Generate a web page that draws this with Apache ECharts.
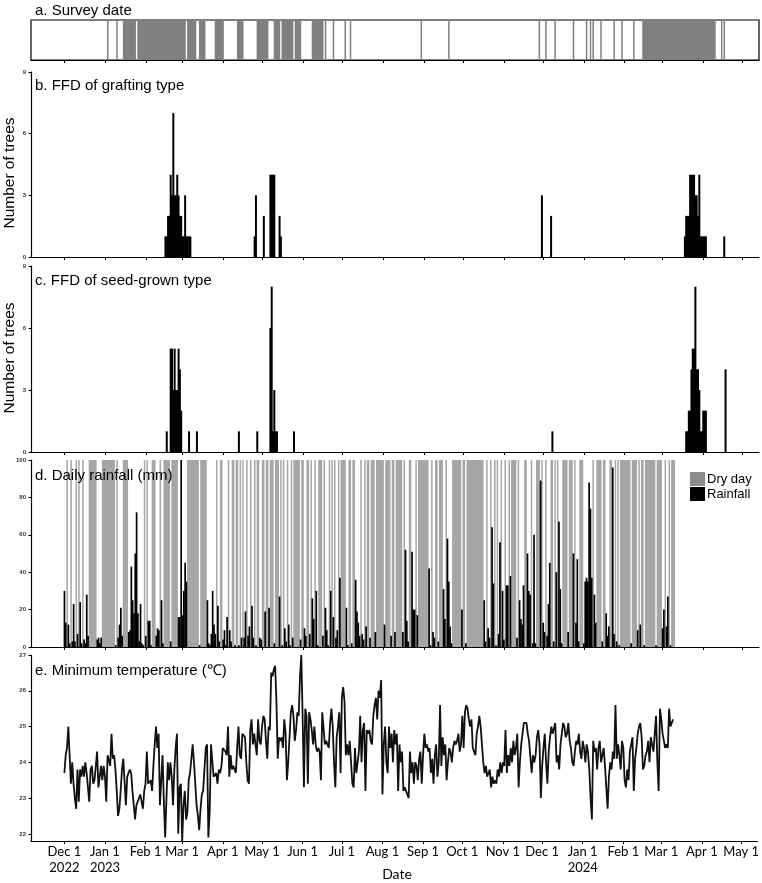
<!DOCTYPE html>
<html><head><meta charset="utf-8">
<script src="https://cdn.jsdelivr.net/npm/echarts@6/dist/echarts.min.js"></script>
<style>html,body{margin:0;padding:0;background:#fff}#c{width:762px;height:883px}</style>
</head><body><div id="c"></div>
<script>
// All day offsets are counted from 2022-12-01 (offset 0).
const BASE_DATE = '2022-12-01';
const AXIS_FIRST_OFFSET = -25;   // 2022-11-06
const AXIS_LAST_OFFSET = 529;    // 2024-05-13
const RAIN_LAST_OFFSET = 465;    // last recorded day of rainfall / temperature

const tickLabels = {
  '2022-12-01':'Dec 1\n2022','2023-01-01':'Jan 1\n2023','2023-02-01':'Feb 1','2023-03-01':'Mar 1',
  '2023-04-01':'Apr 1','2023-05-01':'May 1','2023-06-01':'Jun 1','2023-07-01':'Jul 1','2023-08-01':'Aug 1',
  '2023-09-01':'Sep 1','2023-10-01':'Oct 1','2023-11-01':'Nov 1','2023-12-01':'Dec 1','2024-01-01':'Jan 1\n2024',
  '2024-02-01':'Feb 1','2024-03-01':'Mar 1','2024-04-01':'Apr 1','2024-05-01':'May 1'
};

// a. survey date ranges [first offset, last offset]
const surveyRanges = [[33,33],[40,40],[45,54],[56,92],[94,100],[103,107],[115,121],[132,136],[147,155],
  [160,164],[166,174],[176,180],[189,197],[199,199],[205,205],[214,214],[218,218],[272,272],[293,293],
  [362,362],[367,367],[374,374],[388,388],[398,398],[401,401],[403,403],[409,409],[419,419],[425,425],
  [434,434],[441,496],[501,501],[503,503]];

// b. FFD of grafting type [offset, number of trees]
const ffdGraft = [[77,1],[78,1],[79,2],[80,2],[81,4],[82,3],[83,7],[84,3],[85,3],[86,4],[87,3],[88,2],[89,2],
  [90,1],[91,1],[92,3],[93,1],[94,1],[95,1],[96,1],[145,1],[146,3],[152,2],[157,4],[158,4],[159,4],[160,4],
  [164,2],[165,1],[364,3],[371,2],[473,1],[474,2],[475,2],[476,2],[477,4],[478,4],[479,4],[480,4],[481,3],
  [482,3],[483,2],[484,4],[485,1],[486,1],[487,1],[488,1],[489,1],[503,1]];

// c. FFD of seed-grown type [offset, number of trees]
const ffdSeed = [[78,1],[81,5],[82,5],[83,3],[84,5],[85,3],[86,3],[87,5],[88,4],[89,2],[95,1],[101,1],[133,1],
  [147,1],[157,6],[158,8],[159,1],[160,3],[161,1],[162,1],[175,1],[372,1],[474,1],[475,1],[476,2],[477,2],
  [478,4],[479,5],[480,5],[481,8],[482,4],[483,4],[484,3],[485,1],[486,1],[487,2],[488,2],[489,2],[504,4]];

// d. rain days [offset, mm]; every other recorded day is a dry day
const rainDays = [[0,30],[1,13],[3,12],[4,2],[6,3],[7,23],[8,3],[10,7],[12,24],[13,2],[15,4],[16,2],[17,28],[18,6],
  [25,4],[26,5],[27,2],[28,5],[39,1],[41,5],[42,12],[43,21],[44,6],[49,8],[50,9],[51,43],[52,25],[53,18],[54,50],
  [55,72],[56,18],[57,3],[58,23],[59,2],[60,1],[62,6],[64,14],[65,14],[66,1],[70,6],[71,10],[72,9],[74,25],[75,2],
  [81,3],[87,16],[88,16],[89,100],[90,17],[91,30],[92,45],[93,35],[103,1],[109,25],[110,2],[111,1],[112,7],[113,30],
  [114,12],[115,7],[117,22],[118,3],[121,4],[122,9],[123,1],[124,16],[126,9],[127,3],[130,1],[133,1],[135,5],[137,5],
  [138,19],[140,6],[141,11],[143,22],[144,5],[146,1],[149,5],[150,4],[153,19],[156,21],[160,2],[164,27],[166,1],
  [168,10],[169,3],[171,12],[172,1],[174,5],[180,4],[183,10],[184,6],[187,7],[189,26],[190,15],[192,30],[193,1],
  [197,6],[199,21],[200,9],[201,1],[203,30],[205,16],[207,5],[208,9],[210,37],[215,21],[216,1],[219,2],[222,36],
  [223,19],[224,13],[225,6],[227,7],[228,4],[230,11],[233,5],[237,8],[244,12],[249,6],[252,8],[258,8],[260,52],
  [261,14],[262,3],[265,51],[266,20],[267,20],[269,17],[278,42],[279,1],[281,8],[282,5],[285,3],[289,31],[290,15],
  [292,58],[293,35],[294,11],[295,2],[303,20],[306,2],[320,25],[321,3],[323,10],[324,5],[326,64],[327,34],[329,1],
  [331,7],[332,56],[334,30],[335,4],[337,33],[338,33],[340,38],[345,5],[347,25],[348,15],[349,12],[350,33],[353,50],
  [354,30],[355,28],[357,2],[358,60],[359,2],[363,89],[365,13],[366,8],[368,6],[369,23],[370,45],[373,3],[375,40],
  [377,67],[378,31],[379,2],[384,8],[388,50],[390,13],[391,47],[392,3],[396,2],[397,35],[398,37],[399,35],[400,88],
  [401,74],[402,37],[404,28],[405,13],[410,3],[413,18],[414,6],[415,11],[418,96],[419,7],[421,3],[423,1],[432,2],
  [437,9],[439,12],[442,1],[451,1],[456,10],[457,20],[459,11],[460,27],[462,1]];

// e. daily minimum temperature (°C) from offset 0
const tempMin = [
23.7,24.2,24.4,25.0,24.2,23.4,24.0,23.4,23.0,22.7, 23.8,22.9,23.8,23.6,23.9,23.6,24.0,23.7,23.7,22.9,
23.8,23.9,23.4,23.5,23.9,24.3,23.3,23.6,23.9,23.5, 23.9,23.6,22.9,24.2,24.2,23.9,24.8,24.1,24.2,23.8,
23.2,22.5,22.7,23.2,23.8,24.1,24.1,22.8,23.6,23.6, 23.8,23.7,23.2,22.8,22.4,22.8,22.8,23.0,23.1,22.9,
22.7,23.2,23.4,24.3,23.4,23.4,23.5,23.2,23.9,24.5, 25.0,24.4,24.8,22.8,23.5,24.2,22.9,21.9,23.0,24.0,
23.5,24.0,23.6,22.8,23.8,24.4,24.8,22.0,23.3,23.4, 21.8,22.8,23.2,22.4,22.6,23.5,23.7,24.1,24.5,24.0,
23.4,22.8,22.5,22.1,22.7,23.1,23.2,23.8,24.4,24.5, 21.9,22.6,24.5,24.5,23.6,23.6,23.7,23.4,23.8,23.7,
23.9,24.4,24.4,24.3,24.2,25.0,23.6,24.2,23.8,23.9, 23.9,23.7,24.4,25.0,24.2,24.1,24.8,24.8,24.7,24.0,
23.5,23.4,24.9,25.2,24.5,24.8,24.5,24.2,25.2,24.6, 24.5,25.0,25.3,25.2,24.6,24.1,25.0,24.9,26.5,26.4,
26.6,26.7,25.7,24.1,24.7,24.6,24.7,24.4,25.2,24.8, 23.5,24.0,24.0,25.4,25.6,25.3,24.6,24.9,25.4,25.3,
26.4,27.0,25.3,23.3,25.5,25.3,23.4,25.4,25.2,24.9, 24.5,25.0,24.5,24.3,24.4,24.3,23.5,25.4,25.4,24.5,
24.6,24.6,24.4,25.1,25.5,25.0,24.0,23.3,24.7,25.0, 25.4,23.7,25.8,26.1,25.7,24.2,24.5,24.2,24.6,24.0,
23.4,23.3,24.4,23.7,23.7,24.3,25.3,24.0,24.9,25.1, 23.2,24.9,24.8,24.9,24.6,24.5,25.3,25.6,25.8,25.2,
26.0,
25.8,26.3,23.1,24.5,25.0,24.0,23.7,25.0,24.4,24.8, 24.0,24.9,24.5,24.8,23.2,24.5,24.0,24.3,23.2,23.3,
23.3,23.1,23.0,24.3,23.7,24.0,23.4,24.0,23.9,23.5, 24.1,
24.3,23.4,24.2,24.8,24.4,24.5,24.3,24.4,23.7,24.1, 23.4,24.2,24.5,23.6,24.0,25.6,23.9,24.7,24.2,24.5,
23.5,24.0,24.4,24.3,24.0,24.4,24.6,24.5,24.6,24.8, 24.3,24.5,25.3,24.4,25.4,25.6,25.5,25.2,25.0,25.2,
24.4,24.3,24.2,24.8,25.0,25.3,25.0,24.5,24.0,23.7, 23.9,
23.6,23.6,23.8,23.3,23.6,23.4,23.5,23.4,23.8,23.6, 24.0,23.7,24.0,23.9,24.9,23.7,24.2,23.9,24.4,24.0,
24.6,24.2,24.4,24.8,23.3,24.0,24.5,24.8,25.1,25.1, 25.1,24.8,24.6,24.6,23.7,24.2,24.0,24.2,24.7,24.9,
24.5,
23.0,23.9,24.4,24.8,24.0,23.4,24.3,24.7,25.0,24.8, 24.8,25.1,24.0,24.2,23.8,24.5,24.8,25.1,25.0,24.7,
24.8,25.1,24.6,24.4,24.0,23.9,24.3,24.6,24.5,24.8, 24.3,
24.1,24.6,24.4,24.0,24.5,24.3,23.8,23.0,22.4,24.6, 24.3,24.4,23.8,24.4,24.6,24.0,24.2,24.4,23.9,23.3,
22.7,23.6,24.0,23.8,24.3,24.1,25.6,24.1,24.5,24.2, 23.8,24.6,24.4,23.5,23.3,23.8,23.5,24.3,24.5,24.7,
23.2,24.1,24.4,24.8,25.0,25.1,24.7,23.8,23.9,24.2, 24.3,24.6,24.0,24.7,24.5,24.3,24.8,25.3,24.0,23.2,
25.5,25.2,24.8,24.6,24.4,24.5,24.4,25.5,25.0,25.1, 25.2];

const tempTicks = [22,23,24,25,26,27];

// ---------- build axis categories (one per day) ----------
const DAY = 86400000;
const baseMs = Date.parse(BASE_DATE + 'T00:00:00Z');
const categories = [];
for (let o = AXIS_FIRST_OFFSET; o <= AXIS_LAST_OFFSET; o++) {
  categories.push(new Date(baseMs + o * DAY).toISOString().slice(0, 10));
}
const idx = o => o - AXIS_FIRST_OFFSET;
const N = categories.length;
const blank = () => new Array(N).fill('-');

const graftData = blank(); ffdGraft.forEach(([o, v]) => { graftData[idx(o)] = v; });
const seedData = blank(); ffdSeed.forEach(([o, v]) => { seedData[idx(o)] = v; });
const rainData = blank(); rainDays.forEach(([o, v]) => { rainData[idx(o)] = v; });
const tempData = blank(); tempMin.forEach((v, i) => { tempData[idx(i)] = v; });

const rainSet = new Set(rainDays.map(r => r[0]));
const dryRuns = []; let runStart = null;
for (let o = 0; o <= RAIN_LAST_OFFSET; o++) {
  const dry = !rainSet.has(o);
  if (dry && runStart === null) runStart = o;
  if (!dry && runStart !== null) { dryRuns.push([runStart, o - 1]); runStart = null; }
}
if (runStart !== null) dryRuns.push([runStart, RAIN_LAST_OFFSET]);

const isMonthStart = (i, v) => v.slice(8) === '01';

function xAxisFor(g, showLabel) {
  return {
    type: 'category', gridIndex: g, data: categories, boundaryGap: true,
    axisLine: { show: true, lineStyle: { color: '#000', width: 1.2 } },
    axisTick: { show: true, alignWithLabel: true, interval: isMonthStart, length: 3, lineStyle: { color: '#000', width: 1 } },
    axisLabel: {
      show: showLabel, interval: isMonthStart, formatter: v => tickLabels[v] || '',
      fontFamily: 'Lato', fontSize: 13, color: '#000', margin: 3, lineHeight: 16
    },
    splitLine: { show: false }
  };
}
function yAxisFor(g, min, max, interval, extra) {
  return Object.assign({
    type: 'value', gridIndex: g, min, max, interval,
    axisLine: { show: true, lineStyle: { color: '#000', width: 1.2 } },
    axisTick: { show: true, length: 2.5, lineStyle: { color: '#000' } },
    axisLabel: { fontSize: 6, fontWeight: 'bold', color: '#333', margin: 5, fontFamily: 'Liberation Sans' },
    splitLine: { show: false }
  }, extra || {});
}

function rangeRenderer(yTop, yBottom) {
  return function (params, api) {
    const a = api.value(0), b = api.value(1);
    const p0 = api.coord([a, yTop]);
    const p1 = api.coord([b, yBottom]);
    const w = api.size([1, 0])[0];
    const width = Math.max(p1[0] - p0[0] + w, 1.5);
    return { type: 'rect', shape: { x: p0[0] - w / 2, y: p0[1], width, height: p1[1] - p0[1] },
      style: { fill: api.visual('color') } };
  };
}

const titleStyle = (text) => ({ text, fontSize: 15, fontFamily: 'Liberation Sans', fill: '#000' });

const option = {
  animation: false,
  backgroundColor: '#fff',
  grid: [
    { left: 31, right: 3, top: 20, height: 40, show: true, borderColor: '#000', borderWidth: 1.2 },
    { left: 31, right: 3, top: 72, height: 185 },
    { left: 31, right: 3, top: 266, height: 186 },
    { left: 31, right: 3, top: 460, height: 187 },
    { left: 31, right: 3, top: 655, height: 186 }
  ],
  xAxis: [xAxisFor(0, false), xAxisFor(1, false), xAxisFor(2, false), xAxisFor(3, false), xAxisFor(4, true)],
  yAxis: [
    { type: 'value', gridIndex: 0, min: 0, max: 1, show: false },
    yAxisFor(1, 0, 9, 3),
    yAxisFor(2, 0, 9, 3),
    yAxisFor(3, 0, 100, 20),
    yAxisFor(4, 21.8, 27, undefined, {
      axisTick: { show: true, length: 2.5, lineStyle: { color: '#000' }, customValues: tempTicks },
      axisLabel: { fontSize: 6, fontWeight: 'bold', color: '#333', margin: 5, fontFamily: 'Liberation Sans', customValues: tempTicks }
    })
  ],
  legend: {
    orient: 'vertical', left: 690, top: 472, itemWidth: 15, itemHeight: 14, itemGap: 1, padding: 0,
    selectedMode: false, icon: 'rect',
    textStyle: { fontSize: 13, fontFamily: 'Liberation Sans', color: '#000', padding: [0, 0, 0, -3] },
    data: [{ name: 'Dry day', itemStyle: { color: '#8c8c8c' } }, { name: 'Rainfall', itemStyle: { color: '#000' } }]
  },
  series: [
    { name: 'Survey date', type: 'custom', xAxisIndex: 0, yAxisIndex: 0,
      itemStyle: { color: '#808080' }, renderItem: rangeRenderer(1, 0),
      data: surveyRanges.map(r => [idx(r[0]), idx(r[1])]) },
    { name: 'FFD grafting', type: 'bar', xAxisIndex: 1, yAxisIndex: 1, data: graftData,
      barWidth: 2, itemStyle: { color: '#000' } },
    { name: 'FFD seed-grown', type: 'bar', xAxisIndex: 2, yAxisIndex: 2, data: seedData,
      barWidth: 2, itemStyle: { color: '#000' } },
    { name: 'Dry day', type: 'custom', xAxisIndex: 3, yAxisIndex: 3, z: 1,
      itemStyle: { color: '#a6a6a6' }, renderItem: rangeRenderer(100, 0),
      data: dryRuns.map(r => [idx(r[0]), idx(r[1])]) },
    { name: 'Rainfall', type: 'bar', xAxisIndex: 3, yAxisIndex: 3, data: rainData, z: 3,
      barWidth: 1.7, itemStyle: { color: '#000' } },
    { name: 'Minimum temperature', type: 'line', xAxisIndex: 4, yAxisIndex: 4, data: tempData,
      showSymbol: false, connectNulls: false, lineStyle: { color: '#111', width: 1.8 } }
  ],
  graphic: [
    { type: 'text', z: 100, left: 35, top: 3, style: titleStyle('a. Survey date') },
    { type: 'text', z: 100, left: 35, top: 78, style: titleStyle('b. FFD of grafting type') },
    { type: 'text', z: 100, left: 35, top: 273, style: titleStyle('c. FFD of seed-grown type') },
    { type: 'text', z: 100, left: 35, top: 468, style: titleStyle('d. Daily rainfall (mm)') },
    { type: 'text', z: 100, left: 35, top: 663, style: titleStyle('e. Minimum temperature (℃)') },
    { type: 'text', z: 100, x: 10, y: 173, rotation: Math.PI / 2,
      style: { text: 'Number of trees', fontSize: 15.5, fontFamily: 'Liberation Sans', fill: '#000',
        textAlign: 'center', textVerticalAlign: 'middle', align: 'center', verticalAlign: 'middle' } },
    { type: 'text', z: 100, x: 10, y: 358, rotation: Math.PI / 2,
      style: { text: 'Number of trees', fontSize: 15.5, fontFamily: 'Liberation Sans', fill: '#000',
        textAlign: 'center', textVerticalAlign: 'middle', align: 'center', verticalAlign: 'middle' } },
    { type: 'text', z: 100, x: 397, y: 874,
      style: { text: 'Date', fontSize: 14, fontFamily: 'Lato', fill: '#000',
        textAlign: 'center', textVerticalAlign: 'middle', align: 'center', verticalAlign: 'middle' } }
  ]
};

const chart = echarts.init(document.getElementById('c'), null, { renderer: 'canvas' });
chart.setOption(option);
</script>
</body></html>
